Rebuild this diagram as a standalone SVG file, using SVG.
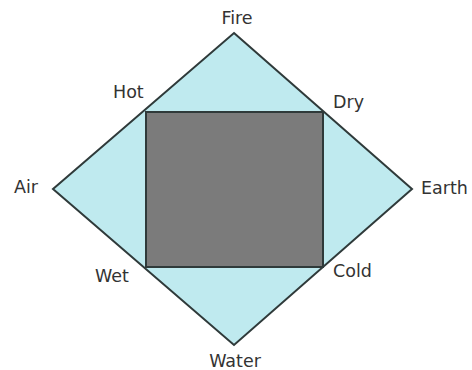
<svg xmlns="http://www.w3.org/2000/svg" width="472" height="370" viewBox="0 0 472 370">
<style>
.lbl{font-family:"DejaVu Sans","Liberation Sans",Arial,sans-serif;font-size:17.5px;fill:#333333}
.shape{stroke:#2f3a3a;stroke-width:2;stroke-linejoin:miter}
</style>
<rect width="472" height="370" fill="#ffffff"/>
<g id="diamond"><polygon class="shape" points="234,33 412,189 234,345 53,189" fill="#bfeaef"/></g>
<g id="square"><rect class="shape" x="146" y="112" width="177" height="155" fill="#7b7b7b"/></g>
<g id="connectors"></g>
<g id="fire"><text class="lbl" x="237" y="24" text-anchor="middle">Fire</text></g>
<g id="air"><text class="lbl" x="14" y="193">Air</text></g>
<g id="earth"><text class="lbl" x="421" y="194">Earth</text></g>
<g id="water"><text class="lbl" x="235" y="367" text-anchor="middle">Water</text></g>
<g id="hot"><text class="lbl" x="113" y="98">Hot</text></g>
<g id="dry"><text class="lbl" x="333" y="108">Dry</text></g>
<g id="wet"><text class="lbl" x="95" y="282">Wet</text></g>
<g id="cold"><text class="lbl" x="333" y="277">Cold</text></g>
</svg>
